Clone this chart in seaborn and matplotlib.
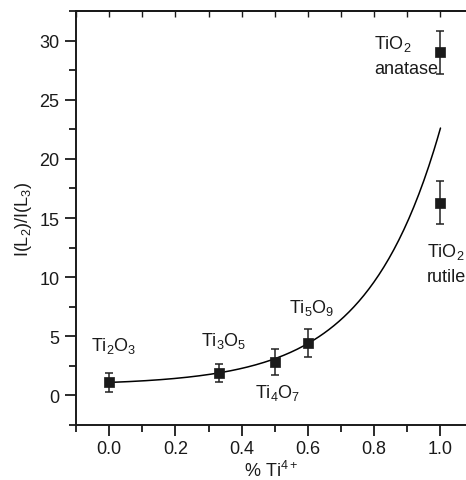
import numpy as np
import pandas as pd
import seaborn as sns
import matplotlib
matplotlib.use("Agg")
import matplotlib.pyplot as plt
from matplotlib.ticker import MultipleLocator

# ---- data ----
ti4_frac = [0.0, 0.333, 0.5, 0.6, 1.0, 1.0]
ratio = [1.1, 1.9, 2.85, 4.45, 16.3, 29.0]
ratio_err = [0.8, 0.8, 1.1, 1.2, 1.8, 1.8]
labels = ["Ti$_2$O$_3$", "Ti$_3$O$_5$", "Ti$_4$O$_7$", "Ti$_5$O$_9$", "TiO$_2$\nrutile", "TiO$_2$\nanatase"]
# exponential fit y = y0 + A*exp(k*x)
fit_y0, fit_A, fit_k = 0.87, 0.2297, 4.55

sns.set_style("ticks")
plt.rcParams["font.family"] = ["Liberation Sans", "DejaVu Sans"]
plt.rcParams["mathtext.fontset"] = "custom"
plt.rcParams["mathtext.rm"] = "Liberation Sans"
plt.rcParams["mathtext.it"] = "Liberation Sans:italic"
plt.rcParams["mathtext.bf"] = "Liberation Sans:bold"
for k in ["text.color", "axes.labelcolor", "xtick.color", "ytick.color", "axes.edgecolor"]:
    plt.rcParams[k] = "#1a1a1a"

fig = plt.figure(figsize=(4.66, 4.81), dpi=100)
ax = fig.add_axes([0.163, 0.1143, 0.837, 0.8607])

df = pd.DataFrame({"x": ti4_frac, "y": ratio, "err": ratio_err})
xf = np.linspace(0, 1, 200)
fit_df = pd.DataFrame({"x": xf, "y": fit_y0 + fit_A * np.exp(fit_k * xf)})
sns.lineplot(data=fit_df, x="x", y="y", ax=ax, color="black", lw=1.1)
ax.errorbar(df["x"], df["y"], yerr=df["err"], fmt="none", ecolor="#222222",
            elinewidth=1.1, capsize=3.2, capthick=1.1, zorder=3)
sns.scatterplot(data=df, x="x", y="y", ax=ax, marker="s", s=48, color="#1a1a1a",
                edgecolor="#1a1a1a", zorder=4, linewidth=0.5)

fs = 13
ax.text(0.015, 4.3, labels[0], ha="center", va="center", fontsize=fs)
ax.text(0.345, 4.7, labels[1], ha="center", va="center", fontsize=fs)
ax.text(0.51, 0.3, labels[2], ha="center", va="center", fontsize=fs)
ax.text(0.61, 7.5, labels[3], ha="center", va="center", fontsize=fs)
ax.text(0.958, 11.2, labels[4], ha="left", va="center", fontsize=fs, linespacing=1.5)
ax.text(0.80, 28.8, labels[5], ha="left", va="center", fontsize=fs, linespacing=1.5)

xlim = (-0.1, 1.077)
ax.set_xlim(*xlim)
ax.set_ylim(-2.5, 32.5)
ax.xaxis.set_major_locator(MultipleLocator(0.2))
ax.xaxis.set_minor_locator(MultipleLocator(0.1))
ax.yaxis.set_major_locator(MultipleLocator(5))
ax.yaxis.set_minor_locator(MultipleLocator(2.5))
ax.xaxis.set_major_formatter(matplotlib.ticker.FormatStrFormatter("%.1f"))
ax.tick_params(which="major", length=8, width=1.3, labelsize=13, direction="out", pad=3)
ax.tick_params(which="minor", length=5, width=1.3, direction="out")
ax.tick_params(axis="y", pad=4)
ax.tick_params(axis="x", top=False, which="both")

ax.set_xlabel("% Ti$^{4+}$", fontsize=13, labelpad=2)
ax.set_ylabel("I(L$_2$)/I(L$_3$)", fontsize=13, labelpad=4)

for s in ["left", "bottom", "top"]:
    ax.spines[s].set_linewidth(1.4)
ax.spines["right"].set_visible(False)

# top axis with short inward ticks
plt.rcParams["xtick.direction"] = "in"
plt.rcParams["xtick.top"] = True
plt.rcParams["xtick.bottom"] = False
ax2 = ax.twiny()
ax2.set_xlim(*xlim)
ax2.xaxis.set_major_locator(MultipleLocator(0.1))
ax2.xaxis.set_minor_locator(matplotlib.ticker.NullLocator())
ax2.xaxis.set_tick_params(which="major", direction="in", length=4, width=1.0,
                          top=True, bottom=False, labeltop=False, labelbottom=False)
ax2.yaxis.set_visible(False)
for s in ["left", "bottom", "right"]:
    ax2.spines[s].set_visible(False)
ax2.spines["top"].set_linewidth(1.4)

fig.savefig("out.png", dpi=100)
